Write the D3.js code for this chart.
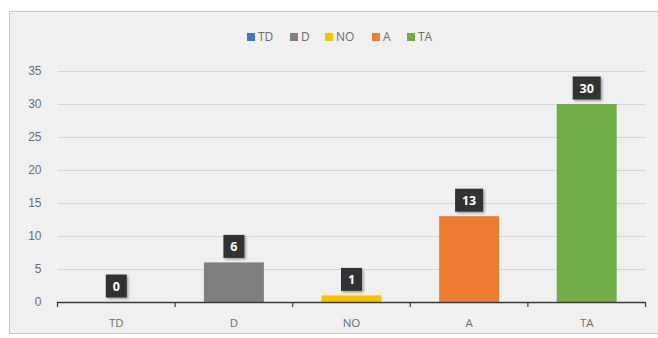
<!DOCTYPE html>
<html>
<head>
<meta charset="utf-8">
<script src="https://cdn.jsdelivr.net/npm/d3@7"></script>
<style>
  html, body { margin: 0; padding: 0; background: #ffffff; }
  svg { display: block; font-family: "Segoe UI", "Open Sans", "DejaVu Sans", sans-serif; }
</style>
</head>
<body>
<svg id="chart" width="658" height="338"></svg>
<script>
// Response counts per agreement level
const categories = ["TD", "D", "NO", "A", "TA"];
const values = [0, 6, 1, 13, 30];
const colors = ["#4472C4", "#7F7F7F", "#FFC000", "#ED7D31", "#70AD47"];
const yTicks = [0, 5, 10, 15, 20, 25, 30, 35];

const svg = d3.select("#chart");
const W = 658, H = 338;
const plotBottom = 302, plotTop = 71;

// Outer panel (right edge runs past the canvas)
svg.append("rect")
  .attr("x", 9.5).attr("y", 11.5)
  .attr("width", W).attr("height", 322)
  .attr("fill", "#f0f0f0").attr("stroke", "#c8c8c8").attr("stroke-width", 1);

const x = d3.scaleBand().domain(categories).range([57.5, 645.5]).paddingInner(0.49).paddingOuter(0.245);
const xEdges = d3.scaleLinear().domain([0, categories.length]).range([57.5, 645.5]);
const y = d3.scaleLinear().domain([0, 35]).range([plotBottom, plotTop]);

// Gridlines
svg.append("g")
  .selectAll("line")
  .data(yTicks.filter(d => d > 0))
  .join("line")
  .attr("x1", 57.5).attr("x2", 645.5)
  .attr("y1", d => Math.round(y(d)) + 0.5).attr("y2", d => Math.round(y(d)) + 0.5)
  .attr("stroke", "#d6d6d6").attr("stroke-width", 1);

// Y axis labels
const yAxis = d3.axisLeft(y).tickValues(yTicks).tickSize(0).tickPadding(16);
const gy = svg.append("g").attr("transform", "translate(57.5,0)").call(yAxis);
gy.select(".domain").remove();
gy.selectAll("text").attr("fill", "#6e6e6e").attr("font-size", 12);

// Shadow for value labels
const defs = svg.append("defs");
const f = defs.append("filter").attr("id", "sh").attr("x", "-30%").attr("y", "-30%").attr("width", "160%").attr("height", "160%");
f.append("feDropShadow").attr("dx", 1.5).attr("dy", 1.5).attr("stdDeviation", 1.2).attr("flood-color", "#000").attr("flood-opacity", 0.35);

// Bars
svg.append("g")
  .selectAll("rect")
  .data(categories)
  .join("rect")
  .attr("x", d => x(d))
  .attr("width", x.bandwidth())
  .attr("y", (d, i) => y(values[i]))
  .attr("height", (d, i) => y(0) - y(values[i]))
  .attr("fill", (d, i) => colors[i]);

// X axis line and ticks
const xAxisG = svg.append("g");
xAxisG.append("line")
  .attr("x1", 57.5).attr("x2", 645.5)
  .attr("y1", plotBottom + 0.5).attr("y2", plotBottom + 0.5)
  .attr("stroke", "#3a3a3a").attr("stroke-width", 1.5);
xAxisG.selectAll("line.tk")
  .data(d3.range(categories.length + 1))
  .join("line").attr("class", "tk")
  .attr("x1", d => xEdges(d)).attr("x2", d => xEdges(d))
  .attr("y1", plotBottom).attr("y2", plotBottom + 5)
  .attr("stroke", "#3a3a3a").attr("stroke-width", 1.2);
xAxisG.selectAll("text")
  .data(categories)
  .join("text")
  .attr("x", d => x(d) + x.bandwidth() / 2)
  .attr("y", 327)
  .attr("text-anchor", "middle")
  .attr("fill", "#6e6e6e").attr("font-size", 11.5)
  .text(d => d);

// Value labels
const lbl = svg.append("g").selectAll("g")
  .data(categories)
  .join("g")
  .attr("transform", (d, i) => `translate(${x(d) + x.bandwidth() / 2},${y(values[i]) - 16})`);
lbl.append("rect")
  .attr("x", (d, i) => -(String(values[i]).length > 1 ? 14 : 10.5))
  .attr("width", (d, i) => String(values[i]).length > 1 ? 28 : 21)
  .attr("y", -11.5).attr("height", 23)
  .attr("fill", "#333333")
  .attr("filter", "url(#sh)");
lbl.append("text")
  .attr("text-anchor", "middle").attr("dy", "0.36em")
  .attr("fill", "#ffffff").attr("font-size", 12.5).attr("font-weight", "bold")
  .text((d, i) => values[i]);

// Legend
const legendX = [247, 290, 325, 372, 407];
const lg = svg.append("g").selectAll("g")
  .data(categories)
  .join("g")
  .attr("transform", (d, i) => `translate(${legendX[i]},37)`);
lg.append("rect").attr("x", 0).attr("y", -4).attr("width", 8).attr("height", 8)
  .attr("fill", (d, i) => colors[i]);
lg.append("text").attr("x", 11).attr("dy", "0.36em")
  .attr("fill", "#6e6e6e").attr("font-size", 12)
  .text(d => d);
</script>
</body>
</html>
